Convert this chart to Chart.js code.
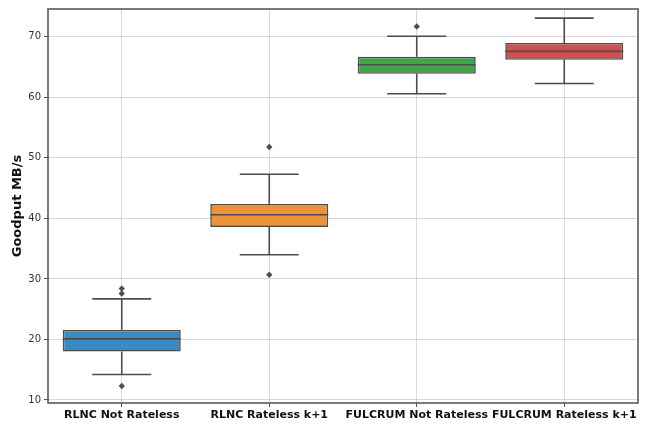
<!DOCTYPE html>
<html>
<head>
<meta charset="utf-8">
<script src="https://cdn.jsdelivr.net/npm/chart.js@4.4.1/dist/chart.umd.min.js"></script>
<style>
html,body{margin:0;padding:0;background:#fff;}
#wrap{width:646px;height:424px;}
</style>
</head>
<body>
<div id="wrap"><canvas id="c" width="646" height="424"></canvas></div>
<script>
const categories = ['RLNC Not Rateless', 'RLNC Rateless k+1', 'FULCRUM Not Rateless', 'FULCRUM Rateless k+1'];
const lowerWhisker = [14.2, 34.0, 60.6, 62.3];
const q1Values     = [18.0, 38.6, 63.9, 66.2];
const medianValues = [20.1, 40.6, 65.4, 67.6];
const q3Values     = [21.6, 42.4, 66.7, 69.0];
const upperWhisker = [26.7, 47.3, 70.1, 73.1];
const outliers     = [[28.4, 27.6, 12.3], [51.8, 30.7], [71.7], []];
const boxColors    = ['#3b8bc2', '#ef9236', '#40a548', '#d24f4f'];
const yTicks       = [10, 20, 30, 40, 50, 60, 70];

const lineColor = '#4d4d4d';
const gridColor = 'rgba(180,180,180,0.5)';

const boxData = categories.map((c, i) => ({x: i, y: [q1Values[i], q3Values[i]]}));
const whiskerPts = [];
const capPts = [];
const medianPts = [];
categories.forEach((c, i) => {
  whiskerPts.push({x: i, y: q3Values[i]}, {x: i, y: upperWhisker[i]}, {x: i, y: null});
  whiskerPts.push({x: i, y: q1Values[i]}, {x: i, y: lowerWhisker[i]}, {x: i, y: null});
  capPts.push({x: i - 0.2, y: upperWhisker[i]}, {x: i + 0.2, y: upperWhisker[i]}, {x: i, y: null});
  capPts.push({x: i - 0.2, y: lowerWhisker[i]}, {x: i + 0.2, y: lowerWhisker[i]}, {x: i, y: null});
  medianPts.push({x: i - 0.4, y: medianValues[i]}, {x: i + 0.4, y: medianValues[i]}, {x: i, y: null});
});
const outlierPts = [];
outliers.forEach((arr, i) => arr.forEach(v => outlierPts.push({x: i, y: v})));

const framePlugin = {
  id: 'frame',
  afterDraw(chart) {
    const a = chart.chartArea, ctx = chart.ctx;
    ctx.save();
    ctx.strokeStyle = '#5a5a5a';
    ctx.lineWidth = 1.6;
    ctx.strokeRect(a.left, a.top, a.right - a.left, a.bottom - a.top);
    ctx.restore();
  }
};

const lineDs = (data, order) => ({
  type: 'line', data, borderColor: lineColor, borderWidth: 1.6,
  pointRadius: 0, spanGaps: false, fill: false, order
});

new Chart(document.getElementById('c'), {
  type: 'bar',
  data: {
    datasets: [
      {
        type: 'bar',
        data: boxData,
        backgroundColor: boxColors,
        borderColor: lineColor,
        borderWidth: 1.6,
        borderSkipped: false,
        barPercentage: 0.8,
        categoryPercentage: 1,
        order: 3
      },
      lineDs(whiskerPts, 4),
      lineDs(capPts, 2),
      lineDs(medianPts, 1),
      {
        type: 'scatter', data: outlierPts,
        pointStyle: 'rectRot', pointRadius: 3.2, backgroundColor: lineColor,
        borderColor: lineColor, borderWidth: 0, order: 0
      }
    ]
  },
  options: {
    responsive: false,
    animation: false,
    layout: {padding: {left: 0, top: 8, right: 8, bottom: 0}},
    plugins: {legend: {display: false}, tooltip: {enabled: false}},
    scales: {
      x: {
        type: 'linear', min: -0.5, max: 3.5, offset: false, z: 1,
        afterBuildTicks(s) { s.ticks = categories.map((c, i) => ({value: i})); },
        grid: {offset: false, color: gridColor, lineWidth: 1, drawTicks: true, tickLength: 4, tickColor: '#555'},
        border: {display: false},
        ticks: {autoSkip: false, color: '#111', font: {family: 'DejaVu Sans', size: 11, weight: 'bold'}, padding: 2, maxRotation: 0,
                callback: (v) => categories[v]},
        afterFit(s) { s.height = 21; }
      },
      y: {
        type: 'linear', min: 9.5, max: 74.6, z: 1,
        afterBuildTicks(s) { s.ticks = yTicks.map(v => ({value: v})); },
        grid: {color: gridColor, lineWidth: 1, drawTicks: true, tickLength: 4, tickColor: '#555'},
        border: {display: false},
        ticks: {color: '#333', font: {family: 'DejaVu Sans', size: 10}, padding: 3},
        title: {display: true, text: 'Goodput MB/s', color: '#111', font: {family: 'DejaVu Sans', size: 13, weight: 'bold'}, padding: {top: 10, bottom: 4}},
        afterFit(s) { s.width = 48; }
      }
    }
  },
  plugins: [framePlugin]
});
</script>
</body>
</html>
